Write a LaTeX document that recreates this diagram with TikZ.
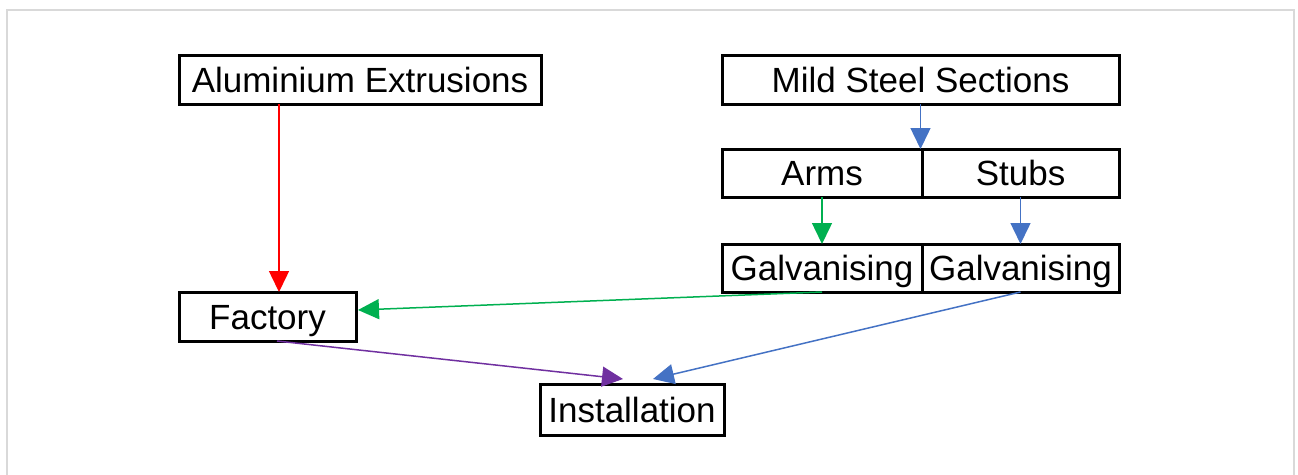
\documentclass[tikz,border=0pt]{standalone}
\usepackage{fontspec}
\setmainfont{Liberation Sans}
\usetikzlibrary{arrows.meta}
\definecolor{cred}{HTML}{FF0000}
\definecolor{cgreen}{HTML}{00B050}
\definecolor{cblue}{HTML}{4472C4}
\definecolor{cpurple}{HTML}{7030A0}
\definecolor{cframe}{HTML}{D9D9D9}
\tikzset{
  box/.style={draw=black, line width=3pt, fill=white, inner sep=0pt, outer sep=0pt,
    font=\fontsize{35}{40}\selectfont, anchor=center, text depth=0pt, text height=0pt},
  conn/.style={line width=1.5pt, -{Triangle[length=21pt,width=20pt]}},
}
\newcommand{\lbl}[1]{\raisebox{-12.5pt}{#1}}
\begin{document}
\begin{tikzpicture}[x=1pt,y=-1pt]
\useasboundingbox (0,0) rectangle (1298,474);
\draw[cframe, line width=2pt] (7,480) -- (7,10) -- (1294,10) -- (1294,480);

\node[box, minimum width=362pt, minimum height=49pt] (alu) at (360,79.5) {\lbl{Aluminium Extrusions}};
\node[box, minimum width=397pt, minimum height=49pt] (mss) at (920.5,79.5) {\lbl{Mild Steel Sections}};
\node[box, minimum width=200pt, minimum height=48pt] (arms) at (822,173) {\lbl{Arms}};
\node[box, minimum width=197pt, minimum height=48pt] (stubs) at (1020.5,173) {\lbl{Stubs}};
\node[box, minimum width=200pt, minimum height=48pt] (galvA) at (822,268) {\lbl{Galvanising}};
\node[box, minimum width=197pt, minimum height=48pt] (galvB) at (1020.5,268) {\lbl{Galvanising}};
\node[box, minimum width=177pt, minimum height=49pt] (fac) at (267.5,316.5) {\lbl{Factory}};
\node[box, minimum width=184pt, minimum height=51pt] (inst) at (632,409.5) {\lbl{Installation}};

\coordinate (facin) at ([xshift=11.5pt]fac.north);
\coordinate (facgreen) at ([xshift=2pt,yshift=6.5pt]fac.east);
\coordinate (facout) at ([xshift=9.5pt]fac.south);
\coordinate (instP) at ([xshift=-9pt,yshift=5pt]inst.north);
\coordinate (instB) at ([xshift=21pt,yshift=5pt]inst.north);

\draw[conn, cred] (alu.south -| facin) -- (facin);
\draw[conn, cblue] (mss.south) -- (mss.south |- arms.north);
\draw[conn, cgreen] (arms.south) -- (galvA.north);
\draw[conn, cblue] (stubs.south) -- (galvB.north);
\draw[conn, cgreen] (galvA.south) -- (facgreen);
\draw[conn, cpurple] (facout) -- (instP);
\draw[conn, cblue] (galvB.south) -- (instB);
\end{tikzpicture}
\end{document}
